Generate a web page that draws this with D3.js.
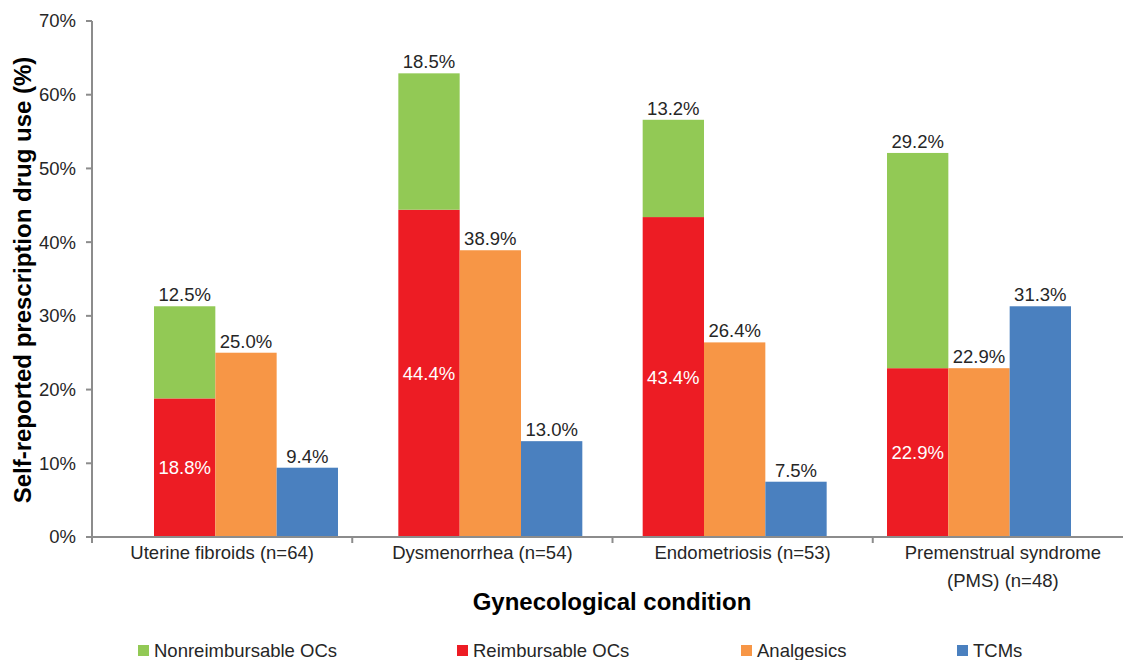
<!DOCTYPE html>
<html><head><meta charset="utf-8">
<script src="https://cdn.jsdelivr.net/npm/d3@7"></script>
<style>body{margin:0;background:#fff}svg{display:block;font-family:"Liberation Sans",Arial,sans-serif}</style>
</head><body>
<svg id="c" width="1123" height="660"></svg>
<script>
const categories = ["Uterine fibroids (n=64)", "Dysmenorrhea (n=54)", "Endometriosis (n=53)", "Premenstrual syndrome (PMS) (n=48)"];
const categoryLines = [["Uterine fibroids (n=64)"], ["Dysmenorrhea (n=54)"], ["Endometriosis (n=53)"], ["Premenstrual syndrome", "(PMS) (n=48)"]];
const seriesNames = ["Nonreimbursable OCs", "Reimbursable OCs", "Analgesics", "TCMs"];
const reimbursableOCs = [18.8, 44.4, 43.4, 22.9];
const nonreimbursableOCs = [12.5, 18.5, 13.2, 29.2];
const analgesics = [25.0, 38.9, 26.4, 22.9];
const tcms = [9.4, 13.0, 7.5, 31.3];
const yTicks = [0, 10, 20, 30, 40, 50, 60, 70];
const colors = {"Nonreimbursable OCs": "#92C955", "Reimbursable OCs": "#ED1C24", "Analgesics": "#F79646", "TCMs": "#4A80BF"};

const svg = d3.select("#c");
const textCol = "#262626";
const axisCol = "#8c8c8c";
const fs = 18.5;

const y = d3.scaleLinear().domain([0, 70]).range([537, 21]);
const xAxisScale = d3.scaleBand().domain(categories).range([92, 1133]);
const xGroup = d3.scaleBand().domain(categories).range([154, 1071]).paddingInner(0.247).paddingOuter(0);
const xInner = d3.scaleBand().domain(["OCs", "Analgesics", "TCMs"]).range([0, xGroup.bandwidth()]);

// y axis
const gy = svg.append("g");
gy.append("line").attr("x1", 92).attr("x2", 92).attr("y1", y(70)).attr("y2", y(0) + 1)
  .attr("stroke", axisCol).attr("stroke-width", 2);
yTicks.forEach(t => {
  gy.append("line").attr("x1", 86).attr("x2", 92).attr("y1", y(t)).attr("y2", y(t)).attr("stroke", axisCol).attr("stroke-width", 2);
  gy.append("text").attr("x", 76).attr("y", y(t)).attr("dy", "0.35em").attr("text-anchor", "end")
    .attr("font-size", fs).attr("fill", textCol).text(t + "%");
});

// bars
const data = categories.map((c, i) => ({c, i}));
const g = svg.append("g");
data.forEach(d => {
  const gx = xGroup(d.c);
  const bw = xInner.bandwidth();
  const x1 = gx + xInner("OCs");
  g.append("rect").attr("x", x1).attr("width", bw).attr("y", y(reimbursableOCs[d.i])).attr("height", y(0) - y(reimbursableOCs[d.i]))
    .attr("fill", colors["Reimbursable OCs"]);
  const tot = reimbursableOCs[d.i] + nonreimbursableOCs[d.i];
  g.append("rect").attr("x", x1).attr("width", bw).attr("y", y(tot)).attr("height", y(reimbursableOCs[d.i]) - y(tot))
    .attr("fill", colors["Nonreimbursable OCs"]);
  g.append("text").attr("x", x1 + bw / 2).attr("y", y(reimbursableOCs[d.i] / 2)).attr("dy", "0.35em")
    .attr("text-anchor", "middle").attr("font-size", fs).attr("fill", "#fff").text(reimbursableOCs[d.i].toFixed(1) + "%");
  g.append("text").attr("x", x1 + bw / 2).attr("y", y(tot) - 5)
    .attr("text-anchor", "middle").attr("font-size", fs).attr("fill", textCol).text(nonreimbursableOCs[d.i].toFixed(1) + "%");
  const x2 = gx + xInner("Analgesics");
  g.append("rect").attr("x", x2).attr("width", bw).attr("y", y(analgesics[d.i])).attr("height", y(0) - y(analgesics[d.i]))
    .attr("fill", colors["Analgesics"]);
  g.append("text").attr("x", x2 + bw / 2).attr("y", y(analgesics[d.i]) - 5)
    .attr("text-anchor", "middle").attr("font-size", fs).attr("fill", textCol).text(analgesics[d.i].toFixed(1) + "%");
  const x3 = gx + xInner("TCMs");
  g.append("rect").attr("x", x3).attr("width", bw).attr("y", y(tcms[d.i])).attr("height", y(0) - y(tcms[d.i]))
    .attr("fill", colors["TCMs"]);
  g.append("text").attr("x", x3 + bw / 2).attr("y", y(tcms[d.i]) - 5)
    .attr("text-anchor", "middle").attr("font-size", fs).attr("fill", textCol).text(tcms[d.i].toFixed(1) + "%");
});

// x axis
const gx = svg.append("g");
gx.append("line").attr("x1", 91).attr("x2", 1123).attr("y1", y(0)).attr("y2", y(0)).attr("stroke", axisCol).attr("stroke-width", 2);
categories.forEach(c => {
  const x0 = xAxisScale(c);
  gx.append("line").attr("x1", x0).attr("x2", x0).attr("y1", y(0)).attr("y2", y(0) + 6).attr("stroke", axisCol).attr("stroke-width", 2);
});
categories.forEach((c, i) => {
  const cx = xAxisScale(c) + xAxisScale.bandwidth() / 2;
  const t = gx.append("text").attr("text-anchor", "middle").attr("font-size", fs).attr("fill", textCol);
  categoryLines[i].forEach((ln, k) => {
    t.append("tspan").attr("x", cx).attr("y", 559 + k * 28).text(ln);
  });
});

// axis titles
svg.append("text").attr("x", 612).attr("y", 610).attr("text-anchor", "middle").attr("font-size", 24).attr("font-weight", "bold")
  .attr("fill", "#000").text("Gynecological condition");
svg.append("text").attr("transform", "translate(31,280) rotate(-90)").attr("text-anchor", "middle").attr("font-size", 24)
  .attr("font-weight", "bold").attr("fill", "#000").text("Self-reported prescription drug use (%)");

// legend
const legX = [138, 457, 741, 957];
const lg = svg.append("g");
seriesNames.forEach((s, i) => {
  lg.append("rect").attr("x", legX[i]).attr("y", 645).attr("width", 11).attr("height", 11).attr("fill", colors[s]);
  lg.append("text").attr("x", legX[i] + 16).attr("y", 657).attr("font-size", fs).attr("fill", textCol).text(s);
});
</script>
</body></html>
